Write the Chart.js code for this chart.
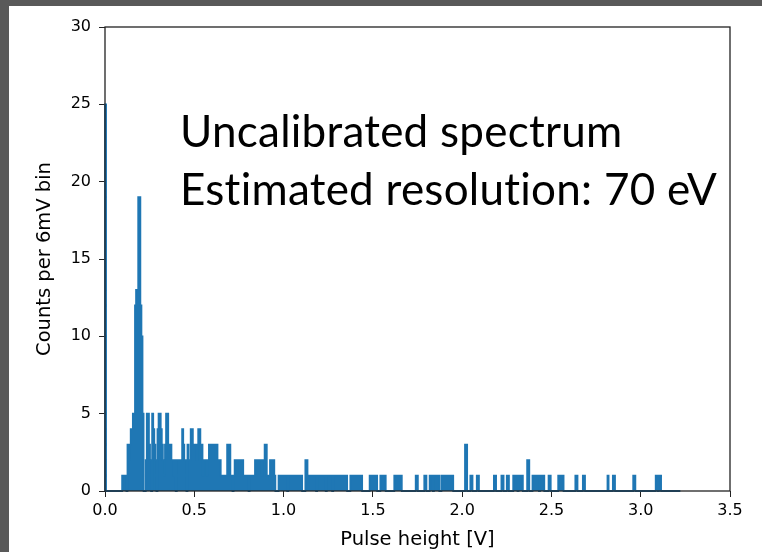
<!DOCTYPE html>
<html>
<head>
<meta charset="utf-8">
<script src="https://cdn.jsdelivr.net/npm/chart.js@4.4.1/dist/chart.umd.min.js"></script>
<style>
    html, body { margin: 0; padding: 0; background: #fff; }
    #frame {
        width: 753px;
        height: 546px;
        border-top: 6px solid #595959;
        border-left: 9px solid #595959;
        background: #fff;
    }
</style>
</head>
<body>
<div id="frame"><canvas id="chart"></canvas></div>
<script>
// Histogram: 6 mV bins starting at 0 V
const binWidth = 0.006;
const nBins = 537;

// counts for bins 0..188 (0 - 1.134 V)
const lowCounts = [
    25, 0, 0, 0, 0, 0, 0, 0, 0, 0,
    0, 0, 0, 0, 0, 0, 1, 1, 1, 1,
    0, 3, 2, 3, 4, 4, 5, 5, 12, 13,
    13, 19, 19, 12, 10, 5, 0, 0, 2, 5,
    5, 3, 2, 0, 5, 4, 3, 2, 0, 4,
    5, 5, 4, 3, 2, 1, 3, 5, 5, 3,
    3, 3, 2, 2, 1, 2, 0, 2, 2, 2,
    2, 2, 4, 3, 2, 2, 0, 3, 2, 2,
    4, 4, 3, 3, 3, 2, 3, 4, 4, 3,
    3, 1, 2, 2, 2, 1, 2, 3, 3, 3,
    3, 3, 3, 2, 3, 2, 2, 2, 1, 1,
    1, 1, 1, 1, 3, 3, 3, 1, 1, 0,
    1, 2, 2, 2, 2, 1, 2, 2, 2, 1,
    1, 1, 1, 1, 0, 1, 1, 1, 1, 1,
    2, 2, 2, 2, 2, 2, 1, 2, 2, 3,
    3, 1, 1, 1, 2, 2, 2, 2, 1, 0,
    0, 0, 1, 1, 1, 1, 1, 1, 1, 1,
    0, 1, 1, 1, 1, 1, 1, 1, 1, 1,
    1, 1, 1, 1, 0, 0, 0, 2, 2
];

// sparse tail: runs of equal counts (first bin, last bin, count)
const tailRunStart = [189, 198, 207, 213, 229, 247, 257, 270, 290, 298, 303, 307, 314, 336, 341, 347,
    363, 370, 375, 381, 386, 394, 399, 406, 414, 423, 439, 446, 469, 474, 493, 514, 517];
const tailRunEnd = [196, 205, 211, 225, 239, 253, 261, 276, 291, 299, 305, 311, 324, 337, 342, 348,
    364, 371, 376, 384, 389, 395, 404, 409, 415, 427, 440, 447, 469, 475, 494, 515, 518];
const tailRunCount = [1, 1, 1, 1, 1, 1, 1, 1, 1, 1, 1, 1, 1, 3, 1, 1,
    1, 1, 1, 1, 1, 2, 1, 1, 1, 1, 1, 1, 1, 1, 1, 1, 1];

const xTicks = [0, 0.5, 1.0, 1.5, 2.0, 2.5, 3.0, 3.5];
const yTicks = [0, 5, 10, 15, 20, 25, 30];

const overlayLines = ["Uncalibrated spectrum", "Estimated resolution: 70 eV"];

// full count array
const counts = new Array(nBins).fill(0);
lowCounts.forEach((c, i) => { counts[i] = c; });
tailRunStart.forEach((s, k) => {
    for (let i = s; i <= tailRunEnd[k]; i++) counts[i] = tailRunCount[k];
});

// step outline corners (left edge / right edge of every bin)
const stepPoints = [{ x: 0, y: 0 }];
counts.forEach((c, i) => {
    stepPoints.push({ x: i * binWidth, y: c });
    stepPoints.push({ x: (i + 1) * binWidth, y: c });
});
stepPoints.push({ x: nBins * binWidth, y: 0 });

const tickFont = { family: "DejaVu Sans", size: 16 };
const titleFont = { family: "DejaVu Sans", size: 19.5 };

// box frame drawn on top of the histogram, like matplotlib spines
const framePlugin = {
    id: "frame",
    afterDatasetsDraw(chart) {
        const { ctx, chartArea: a } = chart;
        ctx.save();
        ctx.strokeStyle = "#222";
        ctx.lineWidth = 1.3;
        ctx.strokeRect(a.left, a.top, a.right - a.left, a.bottom - a.top);
        ctx.restore();
    },
};

// slide text laid over the plot
const overlayPlugin = {
    id: "overlay",
    afterDraw(chart) {
        const { ctx } = chart;
        ctx.save();
        ctx.fillStyle = "#000";
        ctx.font = "44px Lato";
        ctx.letterSpacing = "0.25px";
        ctx.textBaseline = "alphabetic";
        ctx.fillText(overlayLines[0], 171, 141);
        ctx.fillText(overlayLines[1], 171, 199);
        ctx.restore();
    },
};

new Chart(document.getElementById("chart"), {
    type: "line",
    data: {
        datasets: [
            {
                data: stepPoints,
                borderColor: "#1f77b4",
                backgroundColor: "#1f77b4",
                borderWidth: 1.8,
                fill: "origin",
                pointRadius: 0,
                tension: 0,
                clip: 4,
            },
        ],
    },
    options: {
        responsive: true,
        maintainAspectRatio: false,
        animation: false,
        devicePixelRatio: 1,
        layout: { padding: { top: 21, right: 32, left: 0, bottom: 0 } },
        plugins: {
            legend: { display: false },
            tooltip: { enabled: false },
        },
        scales: {
            x: {
                type: "linear",
                min: 0,
                max: 3.5,
                afterFit: (s) => { s.height = 61; },
                afterBuildTicks: (s) => { s.ticks = xTicks.map((v) => ({ value: v })); },
                border: { display: false },
                grid: { drawOnChartArea: false, drawTicks: true, tickLength: 6, color: "#222", lineWidth: 1 },
                ticks: {
                    color: "#000",
                    font: tickFont,
                    padding: 4,
                    maxRotation: 0,
                    callback: (v) => Number(v).toFixed(1),
                },
                title: {
                    display: true,
                    text: "Pulse height [V]",
                    color: "#000",
                    font: titleFont,
                    padding: { top: 0, bottom: 0 },
                },
            },
            y: {
                min: 0,
                max: 30,
                afterFit: (s) => { s.width = 96; },
                afterBuildTicks: (s) => { s.ticks = yTicks.map((v) => ({ value: v })); },
                border: { display: false },
                grid: { drawOnChartArea: false, drawTicks: true, tickLength: 6, color: "#222", lineWidth: 1 },
                ticks: {
                    color: "#000",
                    font: tickFont,
                    padding: 8,
                },
                title: {
                    display: true,
                    text: "Counts per 6mV bin",
                    color: "#000",
                    font: titleFont,
                    padding: { top: 24, bottom: 0 },
                },
            },
        },
    },
    plugins: [framePlugin, overlayPlugin],
});
</script>
</body>
</html>
